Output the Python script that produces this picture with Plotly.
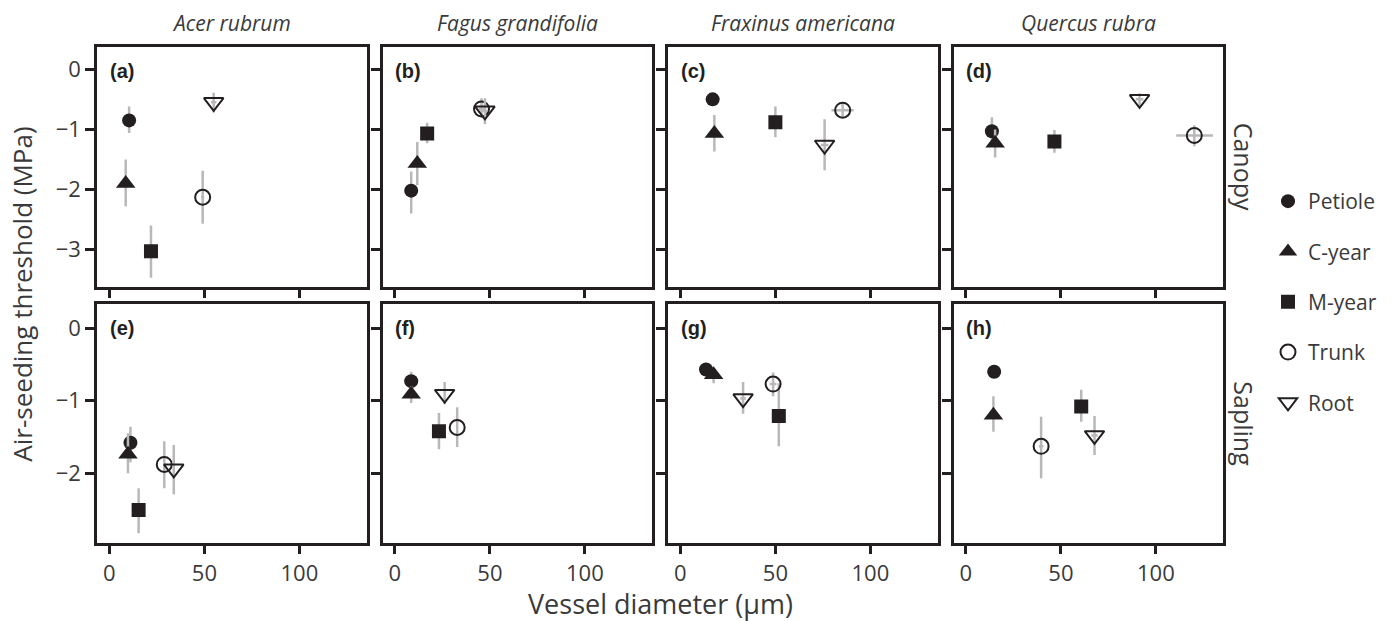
import plotly.graph_objects as go

W, H = 1399, 621

tissues = ["Petiole", "C-year", "M-year", "Trunk", "Root"]
species = ["Acer rubrum", "Fagus grandifolia", "Fraxinus americana", "Quercus rubra"]
stages = ["Canopy", "Sapling"]
panel_letters = ["(a)", "(b)", "(c)", "(d)", "(e)", "(f)", "(g)", "(h)"]

# ---- data (order: Petiole, C-year, M-year, Trunk, Root) ----
acer_canopy_x = [10.4, 8.6, 21.9, 49.1, 54.9]
acer_canopy_y = [-0.85, -1.90, -3.03, -2.13, -0.55]
acer_canopy_ylo = [-1.06, -2.28, -3.47, -2.57, -0.72]
acer_canopy_yhi = [-0.62, -1.50, -2.60, -1.69, -0.39]
acer_canopy_xlo = [10.4, 8.6, 21.9, 48.3, 53.5]
acer_canopy_xhi = [10.4, 8.6, 21.9, 49.9, 56.3]

fagus_canopy_x = [8.6, 11.8, 17.0, 45.6, 47.4]
fagus_canopy_y = [-2.02, -1.57, -1.07, -0.66, -0.69]
fagus_canopy_ylo = [-2.40, -1.93, -1.23, -0.80, -0.91]
fagus_canopy_yhi = [-1.70, -1.21, -0.89, -0.48, -0.48]
fagus_canopy_xlo = [8.6, 11.8, 17.0, 44.0, 46.0]
fagus_canopy_xhi = [8.6, 11.8, 17.0, 47.2, 48.8]

fraxinus_canopy_x = [17.0, 17.9, 50.0, 85.4, 75.9]
fraxinus_canopy_y = [-0.50, -1.07, -0.88, -0.68, -1.26]
fraxinus_canopy_ylo = [-0.50, -1.37, -1.13, -0.79, -1.68]
fraxinus_canopy_yhi = [-0.50, -0.76, -0.62, -0.57, -0.83]
fraxinus_canopy_xlo = [17.0, 17.9, 50.0, 79.5, 73.9]
fraxinus_canopy_xhi = [17.0, 17.9, 50.0, 91.2, 77.9]

quercus_canopy_x = [13.7, 15.4, 46.6, 120.2, 91.4]
quercus_canopy_y = [-1.03, -1.23, -1.20, -1.10, -0.50]
quercus_canopy_ylo = [-1.25, -1.47, -1.39, -1.28, -0.62]
quercus_canopy_yhi = [-0.80, -1.00, -1.01, -0.93, -0.40]
quercus_canopy_xlo = [13.7, 15.4, 46.6, 110.7, 89.4]
quercus_canopy_xhi = [13.7, 15.4, 46.6, 130.0, 93.4]

acer_sapling_x = [11.1, 9.8, 15.4, 28.9, 33.9]
acer_sapling_y = [-1.58, -1.74, -2.51, -1.88, -1.94]
acer_sapling_ylo = [-1.85, -2.00, -2.83, -2.21, -2.29]
acer_sapling_yhi = [-1.36, -1.45, -2.21, -1.56, -1.61]
acer_sapling_xlo = [11.1, 9.8, 15.4, 28.9, 33.9]
acer_sapling_xhi = [11.1, 9.8, 15.4, 28.9, 33.9]

fagus_sapling_x = [8.6, 8.6, 23.2, 32.8, 26.2]
fagus_sapling_y = [-0.73, -0.91, -1.42, -1.37, -0.91]
fagus_sapling_ylo = [-0.90, -1.03, -1.67, -1.64, -1.05]
fagus_sapling_yhi = [-0.60, -0.80, -1.17, -1.09, -0.74]
fagus_sapling_xlo = [8.6, 8.6, 23.2, 32.8, 26.2]
fagus_sapling_xhi = [8.6, 8.6, 23.2, 32.8, 26.2]

fraxinus_sapling_x = [13.5, 17.5, 51.8, 48.8, 33.0]
fraxinus_sapling_y = [-0.57, -0.64, -1.21, -0.77, -0.97]
fraxinus_sapling_ylo = [-0.57, -0.76, -1.63, -0.94, -1.18]
fraxinus_sapling_yhi = [-0.57, -0.60, -0.76, -0.61, -0.74]
fraxinus_sapling_xlo = [13.5, 17.5, 51.8, 47.0, 31.5]
fraxinus_sapling_xhi = [13.5, 17.5, 51.8, 50.6, 34.5]

quercus_sapling_x = [14.9, 14.5, 60.7, 39.6, 67.7]
quercus_sapling_y = [-0.60, -1.20, -1.08, -1.63, -1.48]
quercus_sapling_ylo = [-0.60, -1.43, -1.29, -2.07, -1.75]
quercus_sapling_yhi = [-0.60, -0.94, -0.85, -1.22, -1.21]
quercus_sapling_xlo = [14.9, 14.5, 60.7, 38.4, 66.0]
quercus_sapling_xhi = [14.9, 14.5, 60.7, 40.8, 69.4]

x_ticks = [0, 50, 100]
y_ticks_canopy = [0, -1, -2, -3]
y_ticks_sapling = [0, -1, -2]
# ------------------------------------------------------------

panels = [
    (acer_canopy_x, acer_canopy_y, acer_canopy_ylo, acer_canopy_yhi, acer_canopy_xlo, acer_canopy_xhi),
    (fagus_canopy_x, fagus_canopy_y, fagus_canopy_ylo, fagus_canopy_yhi, fagus_canopy_xlo, fagus_canopy_xhi),
    (fraxinus_canopy_x, fraxinus_canopy_y, fraxinus_canopy_ylo, fraxinus_canopy_yhi, fraxinus_canopy_xlo, fraxinus_canopy_xhi),
    (quercus_canopy_x, quercus_canopy_y, quercus_canopy_ylo, quercus_canopy_yhi, quercus_canopy_xlo, quercus_canopy_xhi),
    (acer_sapling_x, acer_sapling_y, acer_sapling_ylo, acer_sapling_yhi, acer_sapling_xlo, acer_sapling_xhi),
    (fagus_sapling_x, fagus_sapling_y, fagus_sapling_ylo, fagus_sapling_yhi, fagus_sapling_xlo, fagus_sapling_xhi),
    (fraxinus_sapling_x, fraxinus_sapling_y, fraxinus_sapling_ylo, fraxinus_sapling_yhi, fraxinus_sapling_xlo, fraxinus_sapling_xhi),
    (quercus_sapling_x, quercus_sapling_y, quercus_sapling_ylo, quercus_sapling_yhi, quercus_sapling_xlo, quercus_sapling_xhi),
]

INK = "#231f20"
ERR = "#b8b8b8"
FONT = "Open Sans"

marker_styles = {
    "Petiole": dict(symbol="circle", size=14, color=INK, line=dict(width=0)),
    "C-year": dict(symbol="triangle-up", size=17, color=INK, line=dict(width=0)),
    "M-year": dict(symbol="square", size=14, color=INK, line=dict(width=0)),
    "Trunk": dict(symbol="circle-open", size=15, color=INK, line=dict(width=2, color=INK)),
    "Root": dict(symbol="triangle-down-open", size=17, color=INK, line=dict(width=2, color=INK)),
}

col_l = [97, 382.5, 668, 953.5]
col_r = [366.5, 652, 937.5, 1223]
row_top = [46.7, 304]
row_bot = [286.7, 542.7]

fig = go.Figure()
layout = {}
annotations = []

for k, (px, py, pylo, pyhi, pxlo, pxhi) in enumerate(panels):
    r, c = divmod(k, 4)
    ax = k + 1
    xa = "x" if ax == 1 else f"x{ax}"
    ya = "y" if ax == 1 else f"y{ax}"
    for i, t in enumerate(tissues):
        fig.add_trace(go.Scatter(
            x=[px[i]], y=[py[i]], mode="markers", name=t,
            legendgroup=t, showlegend=(k == 0),
            marker=marker_styles[t],
            error_y=dict(type="data", symmetric=False,
                         array=[pyhi[i] - py[i]], arrayminus=[py[i] - pylo[i]],
                         color=ERR, thickness=2.5, width=0),
            error_x=dict(type="data", symmetric=False,
                         array=[pxhi[i] - px[i]], arrayminus=[px[i] - pxlo[i]],
                         color=ERR, thickness=2.5, width=0),
            xaxis=xa, yaxis=ya,
        ))
    common = dict(showline=True, mirror=True, linecolor=INK, linewidth=2.5,
                  ticks="outside", ticklen=9, tickwidth=2.5, tickcolor=INK,
                  showgrid=False, zeroline=False,
                  tickfont=dict(family=FONT, size=22, color="#3a3a3a"))
    layout["xaxis" if ax == 1 else f"xaxis{ax}"] = dict(
        common, domain=[col_l[c] / W, col_r[c] / W], anchor=ya,
        range=[-6.5, 135.3], tickvals=x_ticks, showticklabels=(r == 1))
    yr = [-3.62, 0.377] if r == 0 else [-2.96, 0.335]
    layout["yaxis" if ax == 1 else f"yaxis{ax}"] = dict(
        common, domain=[(H - row_bot[r]) / H, (H - row_top[r]) / H], anchor=xa,
        range=yr, tickvals=(y_ticks_canopy if r == 0 else y_ticks_sapling),
        showticklabels=(c == 0))
    annotations.append(dict(text=f"<b>{panel_letters[k]}</b>", xref=f"{xa} domain",
                            yref=f"{ya} domain", x=0.04, y=0.9, xanchor="left",
                            yanchor="middle", showarrow=False,
                            font=dict(family="Liberation Sans", size=20, color=INK)))

for c, sp in enumerate(species):
    annotations.append(dict(text=f"<i>{sp}</i>", xref="paper", yref="paper",
                            x=(col_l[c] + col_r[c]) / 2 / W, y=(H - 23) / H,
                            xanchor="center", yanchor="middle", showarrow=False,
                            font=dict(family=FONT, size=21, color="#3a3a3a")))
for r, st in enumerate(stages):
    annotations.append(dict(text=st, xref="paper", yref="paper",
                            x=1244 / W, y=(H - (row_top[r] + row_bot[r]) / 2) / H,
                            xanchor="center", yanchor="middle", showarrow=False,
                            textangle=90,
                            font=dict(family=FONT, size=25, color="#3a3a3a")))
annotations.append(dict(text="Air-seeding threshold (MPa)", xref="paper", yref="paper",
                        x=22 / W, y=(H - 294.7) / H, xanchor="center", yanchor="middle",
                        showarrow=False, textangle=-90,
                        font=dict(family=FONT, size=26, color="#3a3a3a")))
annotations.append(dict(text="Vessel diameter (µm)", xref="paper", yref="paper",
                        x=660 / W, y=(H - 603) / H, xanchor="center", yanchor="middle",
                        showarrow=False,
                        font=dict(family=FONT, size=27, color="#3a3a3a")))

fig.update_layout(
    **layout,
    annotations=annotations,
    width=W, height=H,
    margin=dict(l=0, r=0, t=0, b=0),
    paper_bgcolor="white", plot_bgcolor="white",
    font=dict(family=FONT, color=INK),
    legend=dict(x=1268 / W, y=(H - 302) / H, xanchor="left", yanchor="middle",
                font=dict(family=FONT, size=21, color="#3a3a3a"),
                tracegroupgap=20, bgcolor="rgba(0,0,0,0)"),
)

fig.write_html("out.html")
